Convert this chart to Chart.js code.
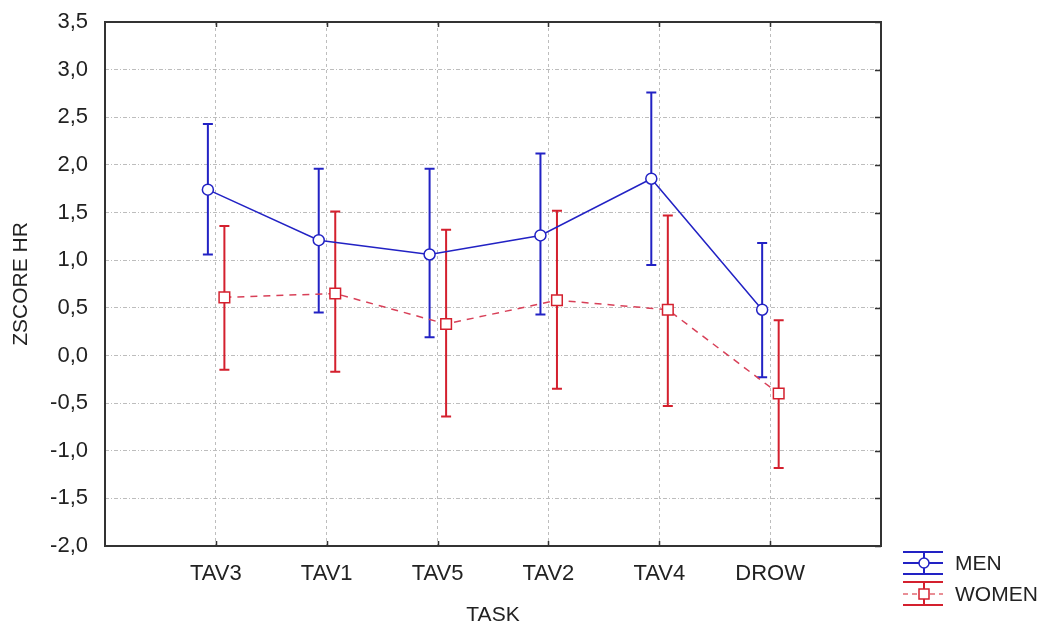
<!DOCTYPE html>
<html><head><meta charset="utf-8">
<script src="https://cdn.jsdelivr.net/npm/chart.js@4/dist/chart.umd.min.js"></script>
<style>html,body{margin:0;padding:0;background:#fff}#wrap{width:1048px;height:628px}</style>
</head><body><div id="wrap"><canvas id="c" width="1048" height="628"></canvas></div>
<script>
const categories = ['TAV3','TAV1','TAV5','TAV2','TAV4','DROW'];
const menMean   = [1.74, 1.21, 1.06, 1.26, 1.855, 0.48];
const menLow    = [1.06, 0.45, 0.19, 0.43, 0.95, -0.23];
const menHigh   = [2.43, 1.96, 1.96, 2.12, 2.76, 1.18];
const womenMean = [0.61, 0.65, 0.33, 0.58, 0.48, -0.40];
const womenLow  = [-0.15, -0.17, -0.64, -0.35, -0.53, -1.18];
const womenHigh = [1.36, 1.51, 1.32, 1.52, 1.47, 0.37];
const yTickLabels = ['-2,0','-1,5','-1,0','-0,5','0,0','0,5','1,0','1,5','2,0','2,5','3,0','3,5'];
const seriesNames = ['MEN','WOMEN'];

const BLUE = '#2222c4', RED = '#d4202e', TEXT = '#222', FONT = "'Liberation Sans', Arial, sans-serif";
const MEN_OFF = -0.072, WOMEN_OFF = 0.077;

const menPts = menMean.map((v,i)=>({x:i+1+MEN_OFF, y:v}));
const womenPts = womenMean.map((v,i)=>({x:i+1+WOMEN_OFF, y:v}));

const drawErr = (ctx, xs, ys, lo, hi, off, color) => {
  ctx.save(); ctx.strokeStyle = color; ctx.lineWidth = 2;
  lo.forEach((l,i)=>{
    const x = xs.getPixelForValue(i+1+off);
    const y1 = ys.getPixelForValue(l), y2 = ys.getPixelForValue(hi[i]);
    ctx.beginPath();
    ctx.moveTo(x, y1); ctx.lineTo(x, y2);
    ctx.moveTo(x-5, y1); ctx.lineTo(x+5, y1);
    ctx.moveTo(x-5, y2); ctx.lineTo(x+5, y2);
    ctx.stroke();
  });
  ctx.restore();
};

const plugin = {
  id: 'deco',
  beforeDatasetsDraw(chart) {
    const {ctx, scales:{x, y}} = chart;
    drawErr(ctx, x, y, menLow, menHigh, MEN_OFF, BLUE);
    drawErr(ctx, x, y, womenLow, womenHigh, WOMEN_OFF, RED);
  },
  afterDraw(chart) {
    const {ctx, chartArea:a, scales:{x, y}} = chart;
    ctx.save();
    ctx.strokeStyle = '#333'; ctx.lineWidth = 1.5;
    ctx.beginPath();
    categories.forEach((c,i)=>{
      const px = Math.round(x.getPixelForValue(i+1))+0.5;
      ctx.moveTo(px, a.top); ctx.lineTo(px, a.top+5);
      ctx.moveTo(px, a.bottom); ctx.lineTo(px, a.bottom-5);
    });
    yTickLabels.forEach((t,i)=>{
      const py = Math.round(y.getPixelForValue(-2 + i*0.5))+0.5;
      ctx.moveTo(a.right, py); ctx.lineTo(a.right-6, py);
    });
    ctx.stroke();
    ctx.lineWidth = 2; ctx.strokeStyle = '#333';
    ctx.strokeRect(a.left, a.top, a.right-a.left, a.bottom-a.top);

    // legend
    const lx0 = 903, lx1 = 943, cx = 924, tx = 955;
    ctx.lineWidth = 2;
    ctx.strokeStyle = BLUE;
    ctx.beginPath();
    ctx.moveTo(lx0, 552); ctx.lineTo(lx1, 552);
    ctx.moveTo(lx0, 574); ctx.lineTo(lx1, 574);
    ctx.moveTo(cx, 552); ctx.lineTo(cx, 574);
    ctx.moveTo(lx0, 563); ctx.lineTo(lx1, 563);
    ctx.stroke();
    ctx.fillStyle = '#fff'; ctx.lineWidth = 1.5;
    ctx.beginPath(); ctx.arc(cx, 563, 5, 0, Math.PI*2); ctx.fill(); ctx.stroke();
    ctx.strokeStyle = RED; ctx.lineWidth = 2;
    ctx.beginPath();
    ctx.moveTo(lx0, 582); ctx.lineTo(lx1, 582);
    ctx.moveTo(lx0, 605); ctx.lineTo(lx1, 605);
    ctx.moveTo(cx, 582); ctx.lineTo(cx, 605);
    ctx.stroke();
    ctx.lineWidth = 1.2; ctx.setLineDash([5,4]);
    ctx.beginPath(); ctx.moveTo(lx0, 594); ctx.lineTo(lx1, 594); ctx.stroke();
    ctx.setLineDash([]); ctx.lineWidth = 1.5;
    ctx.fillRect(cx-5, 589, 10, 10); ctx.strokeRect(cx-5, 589, 10, 10);
    ctx.fillStyle = TEXT; ctx.font = "21px " + FONT; ctx.textBaseline = 'middle'; ctx.textAlign = 'left';
    ctx.fillText(seriesNames[0], tx, 564);
    ctx.fillText(seriesNames[1], tx, 595);
    ctx.restore();
  }
};

new Chart(document.getElementById('c'), {
  type: 'line',
  data: { datasets: [
    { label: seriesNames[0], data: menPts, borderColor: BLUE, borderWidth: 1.5,
      pointStyle: 'circle', pointRadius: 5.5, pointBorderWidth: 1.5, pointBackgroundColor: '#fff', pointBorderColor: BLUE, tension: 0 },
    { label: seriesNames[1], data: womenPts, borderColor: '#d84058', borderWidth: 1.5, borderDash: [7,6],
      pointStyle: 'rect', pointRadius: 7.5, pointBorderWidth: 1.5, pointBackgroundColor: '#fff', pointBorderColor: RED, tension: 0 }
  ]},
  options: {
    responsive: false, animation: false,
    layout: { padding: { left: 0, right: 167, top: 22, bottom: 0 } },
    plugins: { legend: { display: false }, tooltip: { enabled: false } },
    scales: {
      x: { type: 'linear', min: 0, max: 7,
        afterFit: s => { s.height = 82; s.paddingLeft = 0; s.paddingRight = 0; },
        afterBuildTicks: s => { s.ticks = [0,1,2,3,4,5,6,7].map(v=>({value:v})); },
        ticks: { stepSize: 1, autoSkip: false, maxRotation: 0, padding: 15, color: TEXT, font: { family: FONT, size: 22 },
          callback: v => categories[v-1] || '' },
        grid: { drawTicks: false, lineWidth: 1, color: c => (c.tick && c.tick.value >= 1 && c.tick.value <= 6) ? '#bdbdbd' : 'rgba(0,0,0,0)' },
        border: { display: false, dash: [3,3] },
        title: { display: true, text: 'TASK', color: TEXT, font: { family: FONT, size: 21 }, padding: { top: 0, bottom: 0 } }
      },
      y: { min: -2, max: 3.5,
        afterFit: s => { s.width = 105; s.paddingTop = 0; s.paddingBottom = 0; },
        afterBuildTicks: s => { s.ticks = yTickLabels.map((t,i)=>({value: -2 + i*0.5})); },
        ticks: { stepSize: 0.5, padding: 17, color: TEXT, font: { family: FONT, size: 22 },
          callback: (v, i) => yTickLabels[Math.round((v + 2) / 0.5)] },
        grid: { drawTicks: false, lineWidth: 1, color: c => (c.tick && c.tick.value > -2 && c.tick.value < 3.5) ? '#bdbdbd' : 'rgba(0,0,0,0)' },
        border: { display: false, dash: [4,2,1,2] },
        title: { display: true, text: 'ZSCORE HR', color: TEXT, font: { family: FONT, size: 21 }, padding: { top: 9, bottom: 0 } }
      }
    }
  },
  plugins: [plugin]
});
</script></body></html>
